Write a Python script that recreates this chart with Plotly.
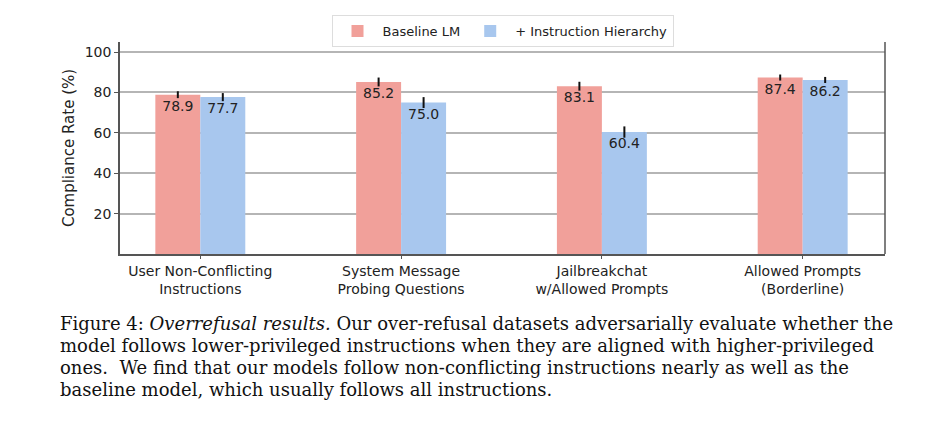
import plotly.graph_objects as go

categories = ["User Non-Conflicting<br>Instructions", "System Message<br>Probing Questions",
              "Jailbreakchat<br>w/Allowed Prompts", "Allowed Prompts<br>(Borderline)"]
baseline = [78.9, 85.2, 83.1, 87.4]
baseline_err = [1.7, 2.2, 2.2, 1.5]
hierarchy = [77.7, 75.0, 60.4, 86.2]
hierarchy_err = [2.0, 2.7, 2.8, 1.5]
series_names = ["Baseline LM", "+ Instruction Hierarchy"]
yticks = [20, 40, 60, 80, 100]
caption_lines = [
    "Figure 4: <i>Overrefusal results.</i> Our over-refusal datasets adversarially evaluate whether the",
    "model follows lower-privileged instructions when they are aligned with higher-privileged",
    "ones.  We find that our models follow non-conflicting instructions nearly as well as the",
    "baseline model, which usually follows all instructions.",
]

RED = "#F1A09A"
BLUE = "#A8C7EE"
FONT = "DejaVu Sans"
x = list(range(len(categories)))

fig = go.Figure()
for name, vals, errs, col in [(series_names[0], baseline, baseline_err, RED),
                              (series_names[1], hierarchy, hierarchy_err, BLUE)]:
    fig.add_trace(go.Bar(
        x=x, y=vals, name=name, marker=dict(color=col, line=dict(width=0)),
        error_y=dict(type="data", array=errs, color="#111111", thickness=2, width=0),
        text=[f"{v:.1f}" for v in vals], textposition="inside", insidetextanchor="end",
        textfont=dict(family=FONT, size=14, color="#222222"), textangle=0,
        constraintext="none", cliponaxis=False,
    ))

PLOT_H = 212
fig.update_layout(
    width=952, height=430,
    margin=dict(l=112, r=75, t=34, b=184, autoexpand=False),
    paper_bgcolor="white", plot_bgcolor="white",
    barmode="group", bargap=0.552, bargroupgap=0,
    font=dict(family=FONT, size=14, color="#222222"),
    showlegend=True,
    legend=dict(orientation="h", x=0.5, xanchor="center", y=1 + 27 / PLOT_H, yanchor="top",
                bordercolor="#dddddd", borderwidth=1, bgcolor="white",
                font=dict(family=FONT, size=13, color="#222222"),
                itemwidth=40, traceorder="normal"),
    xaxis=dict(range=[-0.4, 3.41], tickvals=x, ticktext=categories,
               showgrid=False, showline=True, linecolor="#555555", linewidth=1.5,
               ticks="outside", ticklen=3, tickcolor="#555555", zeroline=False,
               tickfont=dict(family=FONT, size=14, color="#222222")),
    yaxis=dict(range=[0, 105], tickvals=yticks, showgrid=True, gridcolor="#b5b5b5",
               gridwidth=1.5, showline=True, linecolor="#555555", linewidth=1.5,
               mirror=False, ticks="outside", ticklen=4, tickcolor="#555555",
               zeroline=False, tickfont=dict(family=FONT, size=14, color="#222222"),
               title=dict(text="Compliance Rate (%)", standoff=6,
                          font=dict(family=FONT, size=15, color="#222222"))),
)

# right spine
fig.add_shape(type="line", xref="paper", yref="paper", x0=1, x1=1, y0=0, y1=1,
              line=dict(color="#555555", width=1.5))

for i, line in enumerate(caption_lines):
    fig.add_annotation(text=line, xref="paper", yref="paper", showarrow=False,
                       x=-62 / 765, xanchor="left", y=-(323 + 22 * i - 254) / PLOT_H,
                       yanchor="middle",
                       font=dict(family="DejaVu Serif", size=18, color="#111111"))

fig.write_html("out.html")
